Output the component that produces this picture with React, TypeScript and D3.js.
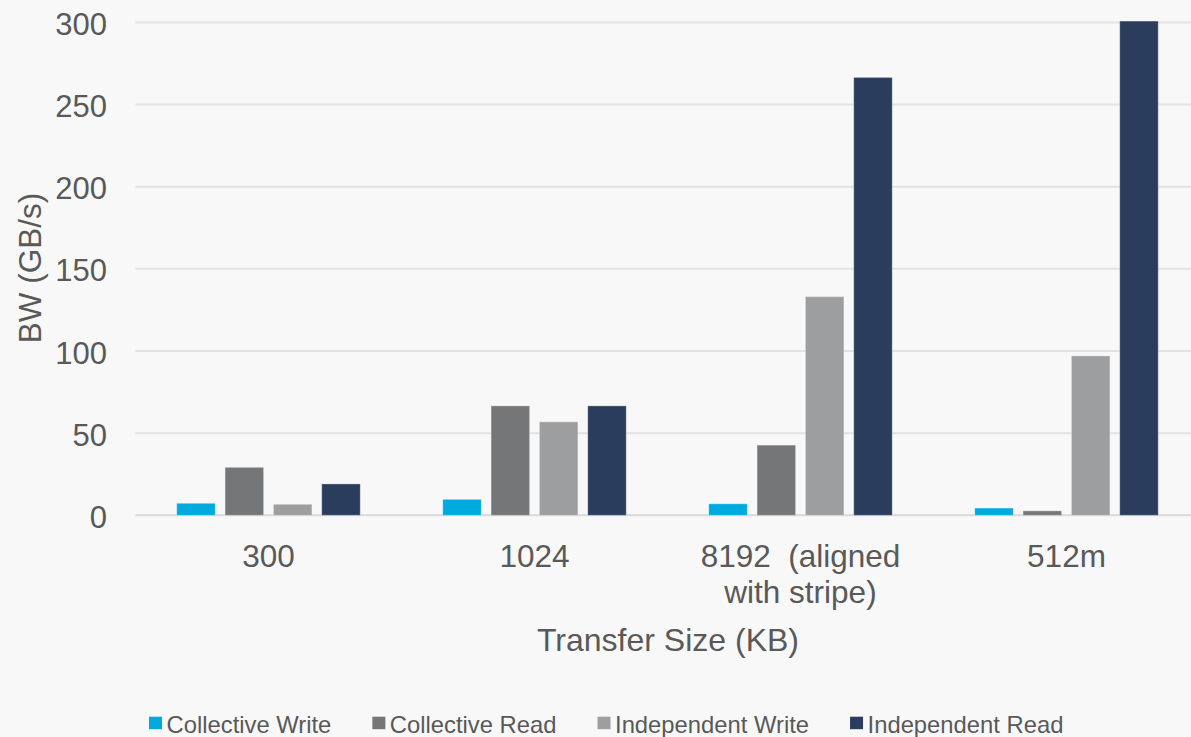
import React, { useMemo } from "react";
import * as d3 from "d3";

// Transfer sizes (KB) on the category axis; one label line per array entry
const categories = ["300", "1024", "8192", "512m"];
const categoryLabels: string[][] = [
  ["300"],
  ["1024"],
  ["8192  (aligned", "with stripe)"],
  ["512m"],
];

const seriesNames = [
  "Collective Write",
  "Collective Read",
  "Independent Write",
  "Independent Read",
];

// Bandwidth in GB/s per transfer size
const collectiveWrite = [7.3, 9.7, 7.0, 4.4];
const collectiveRead = [29.2, 66.6, 42.7, 2.7];
const independentWrite = [6.7, 56.9, 133.1, 97.0];
const independentRead = [19.1, 66.6, 266.5, 300.8];

const yTicks = [0, 50, 100, 150, 200, 250, 300];

const seriesValues = [collectiveWrite, collectiveRead, independentWrite, independentRead];
const colors = ["#00a9de", "#757678", "#9d9ea0", "#2a3d5d"];

const W = 1191;
const H = 737;
const FONT = "'Liberation Sans', Arial, Helvetica, sans-serif";
const TEXT = "#595959";
const LEGEND_SIZE = 23.8;

function measure(text: string, size: number): number {
  const c = document.createElement("canvas").getContext("2d");
  if (!c) return text.length * size * 0.5;
  c.font = `${size}px 'Liberation Sans', Arial, sans-serif`;
  return c.measureText(text).width;
}

export default function App() {
  const x0 = d3.scaleBand<string>().domain(categories).range([135.5, 1199.5]).padding(0);
  const x1 = d3
    .scaleBand<string>()
    .domain(seriesNames)
    .range([0, x0.bandwidth()])
    .paddingInner(0.2034)
    .paddingOuter(0.854);
  const y = d3.scaleLinear().domain([0, 300]).range([515.3, 22.4]);

  const legend = useMemo(() => {
    let cx = 149;
    return seriesNames.map((name, i) => {
      const item = { name, color: colors[i], x: cx };
      cx += 17.5 + measure(name, LEGEND_SIZE) + 41;
      return item;
    });
  }, []);

  return (
    <svg
      width={W}
      height={H}
      style={{ position: "absolute", left: 0, top: 0, display: "block" }}
      fontFamily={FONT}
    >
      <rect x={0} y={0} width={W} height={H} fill="#f8f8f8" />

      {/* horizontal gridlines */}
      {yTicks.map((t) => (
        <line
          key={`g${t}`}
          x1={135.5}
          x2={W}
          y1={y(t)}
          y2={y(t)}
          stroke={t === 0 ? "#d9d9d9" : "#e2e2e2"}
          strokeWidth={2}
        />
      ))}

      {/* y tick labels */}
      {yTicks.map((t) => (
        <text key={`t${t}`} x={107} y={y(t) + 12.5} textAnchor="end" fontSize={31} fill={TEXT}>
          {t}
        </text>
      ))}

      {/* bars */}
      {categories.map((cat, ci) => (
        <g key={cat} transform={`translate(${x0(cat)},0)`}>
          {seriesNames.map((s, si) => {
            const v = seriesValues[si][ci];
            return (
              <rect
                key={s}
                x={x1(s)}
                y={y(v)}
                width={x1.bandwidth()}
                height={y(0) - y(v)}
                fill={colors[si]}
                stroke="#ffffff"
                strokeOpacity={0.3}
                strokeWidth={1}
              />
            );
          })}
        </g>
      ))}

      {/* category labels */}
      {categories.map((cat, ci) => (
        <text
          key={`c${cat}`}
          textAnchor="middle"
          fontSize={31.5}
          fill={TEXT}
          style={{ whiteSpace: "pre" }}
        >
          {categoryLabels[ci].map((line, li) => (
            <tspan key={li} x={(x0(cat) ?? 0) + x0.bandwidth() / 2} y={567 + li * 36}>
              {line}
            </tspan>
          ))}
        </text>
      ))}

      {/* axis titles */}
      <text x={668} y={651} textAnchor="middle" fontSize={32} fill={TEXT}>
        Transfer Size (KB)
      </text>
      <text
        transform="translate(41,268) rotate(-90)"
        textAnchor="middle"
        fontSize={31.5}
        fill={TEXT}
      >
        BW (GB/s)
      </text>

      {/* legend */}
      {legend.map((it) => (
        <g key={it.name}>
          <rect x={it.x} y={716.7} width={13} height={12.5} fill={it.color} />
          <text x={it.x + 17.5} y={733} fontSize={LEGEND_SIZE} fill={TEXT}>
            {it.name}
          </text>
        </g>
      ))}
    </svg>
  );
}
